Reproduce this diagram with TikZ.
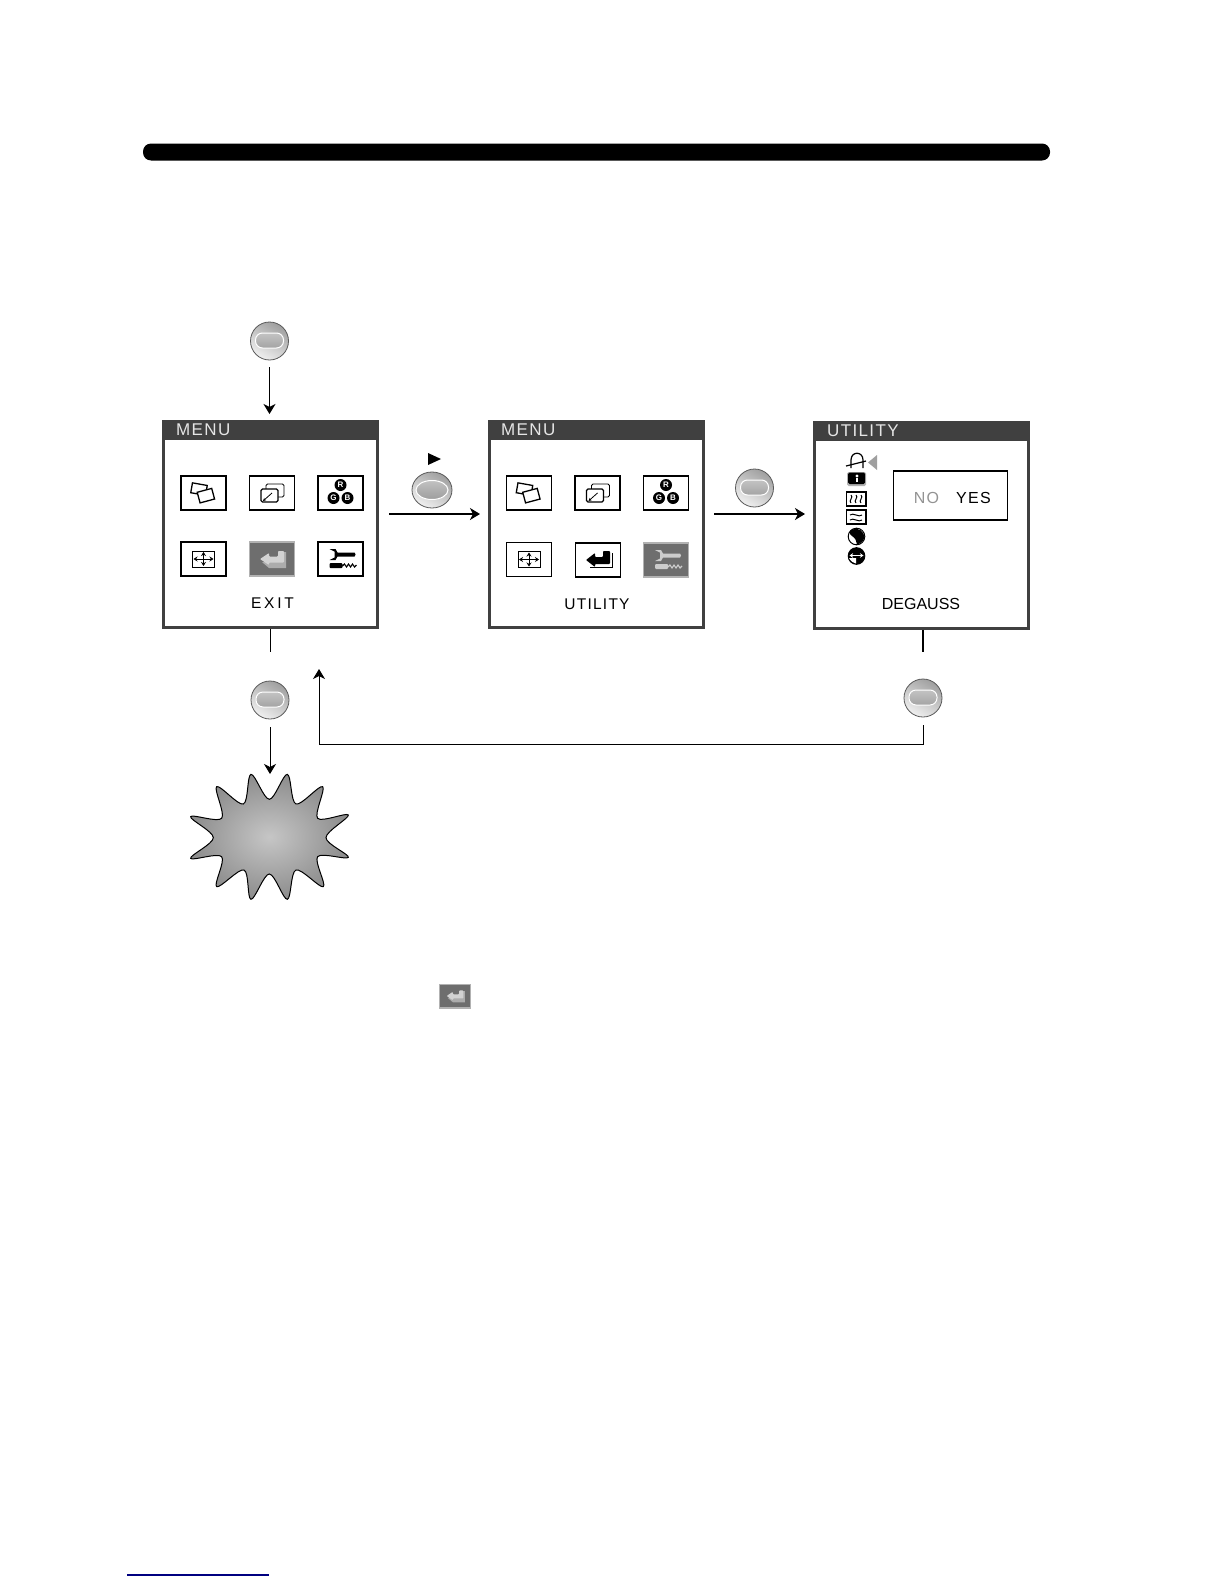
\documentclass[tikz,border=0pt]{standalone}
\usepackage{fontspec}
\setmainfont{Liberation Sans}
\newfontfamily\wideface[LetterSpace=8]{Liberation Sans}
\newfontfamily\widerface[LetterSpace=18]{Liberation Sans}
\usetikzlibrary{arrows.meta,shapes.geometric,positioning}
\definecolor{hdr}{HTML}{404040}
\definecolor{selgray}{HTML}{6E6E6E}
\definecolor{navyline}{HTML}{000080}
\tikzset{
  x=1pt,y=-1pt,
  menubox/.style={draw=hdr,line width=3pt,fill=white,minimum width=214pt,minimum height=206pt,inner sep=0pt},
  hdrtext/.style={text=white!90!black,inner sep=0pt,anchor=west,font=\wideface\fontsize{17}{17}\selectfont},
  captext/.style={text=black,inner sep=0pt,font=\wideface\fontsize{15.5}{16}\selectfont},
  iconbox/.style={draw=black,line width=1.6pt,fill=white},
  selbox/.style={draw=gray!60,line width=1.2pt,fill=selgray},
  conn/.style={draw=black,line width=1pt},
  arr/.style={conn,-{Stealth[length=10pt,width=12pt,inset=3pt]}},
  harr/.style={arr,line width=1.6pt},
  btn/.style={circle,draw=gray!70!black,line width=.8pt,minimum size=38pt,inner sep=0pt,
    top color=gray!75,bottom color=gray!12,shading angle=-30,
    path picture={
      \draw[white,line width=1pt,rounded corners=7pt,top color=gray!30,bottom color=gray!90]
        ([xshift=-14pt,yshift=-7pt]path picture bounding box.center) rectangle
        ([xshift=14pt,yshift=8pt]path picture bounding box.center);
    }},
  ovbtn/.style={ellipse,draw=gray!70!black,line width=.8pt,minimum width=40pt,minimum height=36pt,inner sep=0pt,
    top color=gray!75,bottom color=gray!12,shading angle=-30,
    path picture={
      \draw[white,line width=1pt,top color=gray!35,bottom color=gray!90]
        (path picture bounding box.center) ellipse (16 and 9.5);
    }},
  pics/ovlap/.style={code={
    \draw[iconbox] (-22.5,-17) rectangle (22.5,17);
    \begin{scope}[line width=1.3pt]
      \draw[fill=white,rotate around={-10:(-5,-4)}] (-12,-9) rectangle (3,1);
      \draw[fill=white,rotate around={15:(3,3)}] (-5,-3) rectangle (10,8);
    \end{scope}}},
  pics/resize/.style={code={
    \draw[iconbox] (-22.5,-17) rectangle (22.5,17);
    \draw[line width=.8pt,rounded corners=1.5pt] (-6,-9) rectangle (12,4);
    \draw[line width=1.3pt,rounded corners=1.5pt,fill=white] (-11,-4) rectangle (6,9);
    \draw[line width=.8pt,-{Stealth[length=3pt,width=3pt]}] (0,0) -- (-9,8);}},
  pics/rgb/.style={code={
    \draw[iconbox] (-22.5,-17) rectangle (22.5,17);
    \foreach \p/\q/\t in {0/-8/R,-7/5/G,7/5/B}{
      \fill[black] (\p,\q) circle (6);
      \node[text=white,inner sep=0pt,font=\bfseries\fontsize{8}{8}\selectfont] at (\p,\q) {\t};}}},
  pics/cross/.style={code={
    \draw[iconbox] (-22.5,-17) rectangle (22.5,17);
    \draw[line width=1pt] (-11,-8) rectangle (11,8);
    \draw[line width=.8pt,{Stealth[length=4pt,width=5pt]}-{Stealth[length=4pt,width=5pt]}] (-10,0) -- (10,0);
    \draw[line width=.8pt,{Stealth[length=4pt,width=5pt]}-{Stealth[length=4pt,width=5pt]}] (0,-7) -- (0,7);}},
  pics/retblack/.style={code={
    \draw[iconbox] (-22.5,-17) rectangle (22.5,17);
    \draw[line width=.7pt] (-8,7) -- (14,7) -- (14,-7);
    \fill[black,rounded corners=.8pt] (-12,0) -- (-3,-7) -- (-3,-3) -- (5,-3) -- (5,-9) -- (12,-9) -- (12,4) -- (-3,4) -- (-3,7) -- cycle;}},
  pics/retgray/.style={code={
    \draw[selbox] (-22.5,-17) rectangle (22.5,17);
    \fill[gray!65] (-10,3) -- (-3,9) -- (14,9) -- (14,-7) -- (8,-7) -- (8,3) -- cycle;
    \fill[gray!35,rounded corners=.8pt] (-12,0) -- (-3,-6) -- (-3,-2.5) -- (6,-2.5) -- (6,-8) -- (12,-8) -- (12,3.5) -- (-3,3.5) -- (-3,6) -- cycle;}},
  pics/wrench/.style={code={
    \draw[#1] (-22.5,-17) rectangle (22.5,17);
    \fill[\wrcol] (-11,-10) -- (-5,-10) -- (-3,-6.5) -- (14,-6.5) -- (15,-4.5) -- (14,-2.5) -- (-3,-2.5) -- (-5,1) -- (-11,1) -- (-6,-1.5) -- (-6,-7.5) -- cycle;
    \fill[\wrcol,rounded corners=1pt] (-11,4) rectangle (2,9);
    \draw[\wrcol,line width=1.1pt] (2,7) -- (4,5) -- (6,8) -- (8,5) -- (10,8) -- (12,5) -- (14,8) -- (16,6);}},
}
\newcommand{\wrcol}{black}
\begin{document}
\begin{tikzpicture}
\useasboundingbox (0,0) rectangle (1224,1584);
\fill[white] (0,0) rectangle (1224,1584);
% title bar and foot line
\fill[black,rounded corners=8pt] (143,143.5) rectangle (1050,160.5);
\draw[navyline,line width=1.2pt] (127,1575) -- (269,1575);

% menus
\node[menubox] (m1) at (270.5,524.5) {};
\node[menubox] (m2) at (596.5,524.5) {};
\node[menubox] (m3) at (921.5,525.5) {};
\fill[hdr] (m1.north west) rectangle ([yshift=-20pt]m1.north east);
\fill[hdr] (m2.north west) rectangle ([yshift=-20pt]m2.north east);
\fill[hdr] (m3.north west) rectangle ([yshift=-20pt]m3.north east);
\node[hdrtext] (t1) at (176,429.5) {MENU};
\node[hdrtext] (t2) at (501,429.5) {MENU};
\node[hdrtext] (t3) at (827,431) {UTILITY};

% menu 1 icons
\pic at (203.5,493) {ovlap};
\pic at (272,493) {resize};
\pic at (340.5,493) {rgb};
\pic at (203.5,559) {cross};
\pic at (272,559) {retgray};
\pic at (340.5,559) {wrench={iconbox}};
\node[captext,font=\widerface\fontsize{15.5}{16}\selectfont] (c1) at (272.5,603) {EXIT};

% menu 2 icons
\pic at (529,493) {ovlap};
\pic at (597.5,493) {resize};
\pic at (666,493) {rgb};
\pic at (529,559.5) {cross};
\pic at (598,560) {retblack};
\begin{scope}
\renewcommand{\wrcol}{gray!40}
\pic at (666,560) {wrench={selbox}};
\end{scope}
\node[captext] (c2) at (597,604) {UTILITY};

% menu 3 contents
\node[draw=black,line width=1.8pt,fill=white,minimum width=114pt,minimum height=49pt,inner sep=0pt] (yn) at (950.5,495.5) {};
\node[inner sep=0pt,text=gray!85,font=\wideface\fontsize{16}{16}\selectfont] (no) at (926.5,497.5) {NO};
\node[inner sep=0pt,text=black,font=\wideface\fontsize{16}{16}\selectfont] (yes) at (973.5,497.5) {YES};
\node[inner sep=0pt,font=\fontsize{16}{16}\selectfont] (c3) at (921,603.5) {DEGAUSS};
% side icons
\draw[line width=1.2pt] (851,468) -- (851,460) .. controls (851,451) and (863,451) .. (863,460) -- (863,468);
\draw[line width=1.2pt] (846,466) -- (866,461);
\fill[gray!75] (868,462.5) -- (877,455) -- (877,470) -- cycle;
\fill[gray!60,rounded corners=1.5pt] (847,472) rectangle (866,486);
\fill[black,rounded corners=1.5pt] (848,472.5) rectangle (865,484);
\fill[white] (857,476) circle (1.7);
\fill[white] (856.2,478) rectangle (857.8,482);
\draw[line width=1.4pt] (846.5,492) rectangle (866,506);
\foreach \o in {851,856,861}{
  \draw[line width=1pt] (\o,495) .. controls (\o+3,497) and (\o-3,501) .. (\o,503);}
\draw[line width=1.4pt] (846.5,510) rectangle (866,524);
\draw[line width=1pt] (850,515) .. controls (853,512) and (859,518) .. (862,515);
\draw[line width=1pt] (850,520) .. controls (853,517) and (859,523) .. (862,520);
\draw[line width=1pt,fill=white] (856.5,536.5) circle (8.3);
\fill[black] (852,529.5) .. controls (858,527) and (864,531) .. (864.5,537) .. controls (864,541) and (860,544) .. (857,544.5) .. controls (857,541) and (855,538) .. (852,536) .. controls (849,534) and (849,531) .. (852,529.5) -- cycle;
\draw[line width=1pt,fill=black] (856.5,556) circle (8.3);
\fill[white] (849,558) .. controls (851,561.5) and (853,563) .. (856,563.5) -- (856,558) -- cycle;
\draw[white,line width=1.1pt,{Stealth[length=3.5pt,width=4.5pt]}-{Stealth[length=3.5pt,width=4.5pt]}] (849.5,555.5) -- (863.5,555.5);

% buttons
\node[btn] (b1) at (269.5,341) {};
\node[ovbtn] (b2) at (432,490) {};
\node[btn] (b3) at (754.5,488) {};
\node[btn] (b4) at (270,700) {};
\node[btn] (b5) at (923,698) {};
\fill[black] (428,453) -- (441,459) -- (428,465) -- cycle;

% starburst
\node[inner sep=0pt,minimum size=0pt] (star) at (270,837) {};
\begin{scope}[shift={(170,660)},x=.3333pt,y=-.3333pt]
\draw[black,line width=1pt,inner color=gray!45,outer color=gray!90]
  plot[smooth cycle,tension=.55] coordinates {
  (243,343) (298,418) (352,343) (378,432) (458,380) (443,475) (535,465) (468,533)
  (535,592) (443,590) (460,680) (378,630) (352,718) (298,642) (243,718) (222,630)
  (140,680) (155,590) (62,595) (130,533) (62,470) (155,475) (140,380) (220,432)};
\end{scope}
\coordinate (startop) at (270,774);

% connectors
\draw[arr,shorten <=7pt,shorten >=6pt] (b1.south) -- (b1.south |- m1.north);
\coordinate (a2s) at (389,514);
\coordinate (a2e) at (m2.west |- a2s);
\draw[harr,shorten >=8pt] (a2s) -- (a2e);
\coordinate (a3s) at (714,514);
\coordinate (a3e) at (m3.west |- a3s);
\draw[harr,shorten >=8pt] (a3s) -- (a3e);
\coordinate (j1) at (m1.south |- 0,652);
\draw[conn] (m1.south) -- (j1);
\coordinate (j3) at (923,652);
\draw[conn,line width=1.6pt] (j3 |- m3.south) -- (j3);
\draw[arr,shorten <=8pt] (b4.south) -- (startop);
\coordinate (lc) at (923,744);
\coordinate (ld) at (319,744);
\coordinate (le) at (319,669);
\draw[arr,shorten <=8pt] (b5.south) -- (lc) -- (ld) -- (le);

% small exit icon
\pic[scale=.7] at (455,996) {retgray};
\end{tikzpicture}
\end{document}
